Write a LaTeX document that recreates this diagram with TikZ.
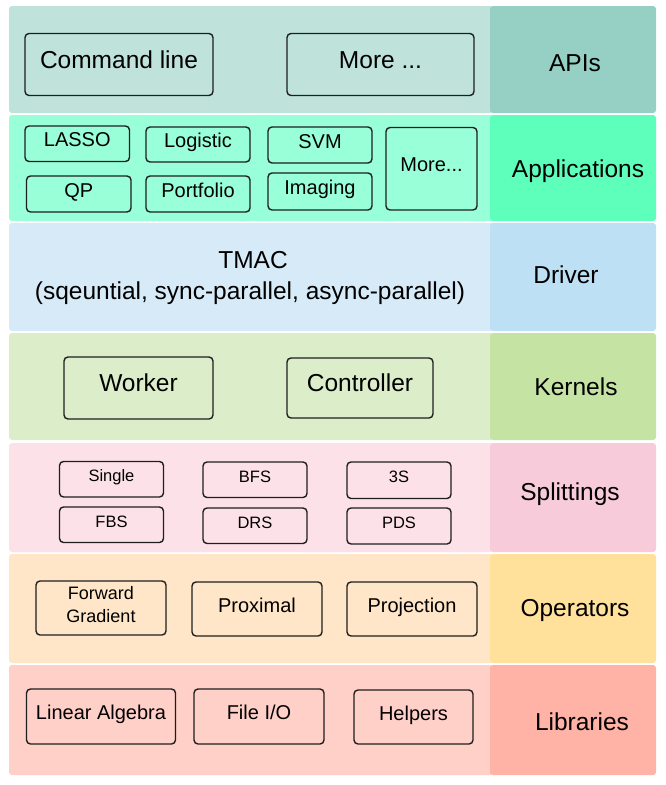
\documentclass[tikz,border=0pt]{standalone}
\usepackage{fontspec}
\setmainfont{Liberation Sans}
\usepackage{xcolor}
\usepackage{tikz}

\definecolor{apiL}{HTML}{BFE3DA}
\definecolor{apiR}{HTML}{96D0C4}
\definecolor{appL}{HTML}{99FFD9}
\definecolor{appR}{HTML}{5EFFBB}
\definecolor{drvL}{HTML}{D6EAF8}
\definecolor{drvR}{HTML}{BDE0F4}
\definecolor{kerL}{HTML}{DCEDCA}
\definecolor{kerR}{HTML}{C5E3A3}
\definecolor{splL}{HTML}{FCE1E9}
\definecolor{splR}{HTML}{F7CBD9}
\definecolor{opL}{HTML}{FFE6C8}
\definecolor{opR}{HTML}{FFE19C}
\definecolor{libL}{HTML}{FFD0C8}
\definecolor{libR}{HTML}{FFB2A6}
\definecolor{edge}{HTML}{1E1E1E}

\tikzset{
  box/.style={draw=edge, line width=1.4pt, rounded corners=4pt, inner sep=0pt},
  big/.style={font=\fontsize{24.5}{28}\selectfont, text height=17.6pt, text depth=9.8pt},
  mid/.style={font=\fontsize{20}{24}\selectfont, text height=14.4pt, text depth=8pt},
  small/.style={font=\fontsize{16.5}{20}\selectfont, text height=11.9pt, text depth=6.6pt},
  tag/.style={font=\fontsize{24.5}{28}\selectfont, text height=17.6pt, text depth=0pt, inner sep=0pt},
}

\begin{document}
\begin{tikzpicture}[x=1pt, y=-1pt]
    \useasboundingbox (0,0) rectangle (666,785);
    % layer panels
    \fill[apiL, rounded corners=3pt] (9,6) rectangle (493,113);
    \fill[apiR, rounded corners=3pt] (490,6) rectangle (656,113);
    \fill[appL, rounded corners=3pt] (9,115) rectangle (493,221);
    \fill[appR, rounded corners=3pt] (490,115) rectangle (656,221);
    \fill[drvL, rounded corners=3pt] (9,223) rectangle (493,331);
    \fill[drvR, rounded corners=3pt] (490,223) rectangle (656,331);
    \fill[kerL, rounded corners=3pt] (9,333) rectangle (493,440);
    \fill[kerR, rounded corners=3pt] (490,333) rectangle (656,440);
    \fill[splL, rounded corners=3pt] (9,443) rectangle (493,552);
    \fill[splR, rounded corners=3pt] (490,443) rectangle (656,552);
    \fill[opL, rounded corners=3pt] (9,554) rectangle (493,663);
    \fill[opR, rounded corners=3pt] (490,554) rectangle (656,663);
    \fill[libL, rounded corners=3pt] (9,665) rectangle (493,775);
    \fill[libR, rounded corners=3pt] (490,665) rectangle (656,775);

    % layer names
    \node[tag] (apis) at (575,63) {APIs};
    \node[tag] (apps) at (578,168.5) {Applications};
    \node[tag] (driver) at (566,275) {Driver};
    \node[tag] (kernels) at (576,386.5) {Kernels};
    \node[tag] (splittings) at (570,492) {Splittings};
    \node[tag] (operators) at (575,608) {Operators};
    \node[tag] (libraries) at (582,722) {Libraries};

    % APIs
    \node[box, big, minimum width=188, minimum height=62] (cmdline) at (119,64.5) {Command line};
    \node[box, big, minimum width=187, minimum height=62] (apimore) at (380.5,64.5) {More ...};

    % Applications
    \node[box, mid, minimum width=104.5, minimum height=35.5] (lasso) at (77.25,143.75) {LASSO};
    \node[box, mid, minimum width=104, minimum height=35] (logistic) at (198,144.5) {Logistic};
    \node[box, mid, minimum width=104, minimum height=36] (svm) at (320,145) {SVM};
    \node[box, mid, minimum width=91, minimum height=82.5] (appmore) at (431.5,168.75) {More...};
    \node[box, mid, minimum width=104.5, minimum height=36] (qp) at (78.75,194) {QP};
    \node[box, mid, minimum width=104, minimum height=36] (portfolio) at (198,194) {Portfolio};
    \node[box, mid, minimum width=104, minimum height=37] (imaging) at (320,191.5) {Imaging};

    % Driver
    \node[tag] (tmac) at (253,259.5) {TMAC};
    \node[tag] (tmacmode) at (250,291) {(sqeuntial, sync-parallel, async-parallel)};

    % Kernels
    \node[box, big, minimum width=149, minimum height=62] (worker) at (138.5,388) {Worker};
    \node[box, big, minimum width=146, minimum height=60] (controller) at (360,388) {Controller};

    % Splittings
    \node[box, small, minimum width=104, minimum height=35.5] (single) at (111.5,479.25) {Single};
    \node[box, small, minimum width=104, minimum height=35.5] (bfs) at (255,479.75) {BFS};
    \node[box, small, minimum width=104, minimum height=36.5] (threes) at (399,480.25) {3S};
    \node[box, small, minimum width=104, minimum height=35.5] (fbs) at (111.5,524.75) {FBS};
    \node[box, small, minimum width=104, minimum height=35.5] (drs) at (255,525.75) {DRS};
    \node[box, small, minimum width=104, minimum height=36] (pds) at (399,526) {PDS};

    % Operators
    \node[box, minimum width=130, minimum height=54] (forward) at (101,608) {};
    \node[font=\fontsize{18}{22.3}\selectfont, align=center, inner sep=0pt] (forwardtext) at (101,604.6) {Forward\\Gradient};
    \node[box, mid, minimum width=130, minimum height=54] (proximal) at (257,609) {Proximal};
    \node[box, mid, minimum width=130, minimum height=54] (projection) at (412,609) {Projection};

    % Libraries
    \node[box, mid, minimum width=149, minimum height=55] (linalg) at (101,716.5) {Linear Algebra};
    \node[box, mid, minimum width=130, minimum height=55] (fileio) at (259,716.5) {File I/O};
    \node[box, mid, minimum width=119, minimum height=54] (helpers) at (413.5,717) {Helpers};
\end{tikzpicture}
\end{document}
